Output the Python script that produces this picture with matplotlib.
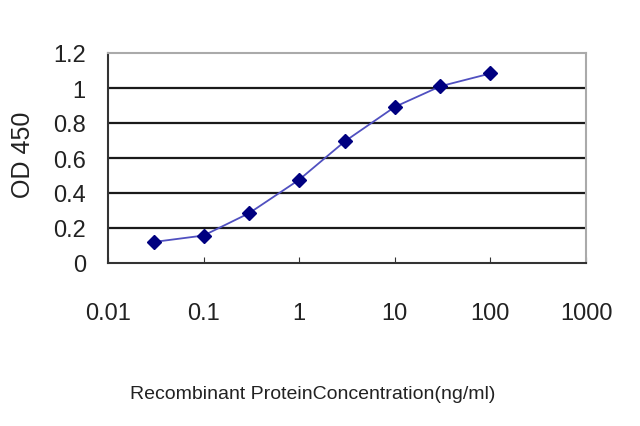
import matplotlib
matplotlib.use('Agg')
import matplotlib.pyplot as plt

# ELISA standard curve
conc = [0.03, 0.1, 0.3, 1, 3, 10, 30, 100]
od450 = [0.12, 0.157, 0.285, 0.476, 0.695, 0.892, 1.01, 1.083]
y_ticks = [0, 0.2, 0.4, 0.6, 0.8, 1, 1.2]
y_labels = ['0', '0.2', '0.4', '0.6', '0.8', '1', '1.2']
x_ticks = [0.01, 0.1, 1, 10, 100, 1000]
x_labels = ['0.01', '0.1', '1', '10', '100', '1000']

plt.rcParams['font.family'] = ['Liberation Sans', 'DejaVu Sans']

fig = plt.figure(figsize=(6.4, 4.27), dpi=100)
ax = fig.add_axes([108 / 640, 1 - 264 / 427, (586 - 108) / 640, (264 - 54) / 427])

ax.set_xscale('log')
ax.set_xlim(0.01, 1000)
ax.set_ylim(0, 1.2)

for y in y_ticks[1:-1]:
    ax.axhline(y, color='#1a1a1a', lw=1.6, zorder=1)

ax.plot(conc, od450, color='#5050c0', lw=1.3, zorder=2)
ax.plot(conc, od450, ls='none', marker='D', ms=7.5, color='#000080', zorder=3)

ax.set_yticks(y_ticks)
ax.set_yticklabels(y_labels, fontsize=17, color='#222222')
ax.set_xticks(x_ticks)
ax.set_xticklabels(x_labels, fontsize=17, color='#222222')
ax.minorticks_off()
ax.tick_params(axis='y', length=0, pad=16)
ax.tick_params(axis='x', direction='in', length=4, pad=28, color='#333333')

for side in ['top', 'right']:
    ax.spines[side].set_color('#aaaaaa')
    ax.spines[side].set_linewidth(1.5)
for side in ['left', 'bottom']:
    ax.spines[side].set_color('#333333')
    ax.spines[side].set_linewidth(1.5)

fig.text(23 / 640, 1 - 155 / 427, 'OD 450', rotation=90, ha='center', va='center',
         fontsize=18, color='#222222')
fig.text(313 / 640, 1 - 395 / 427, 'Recombinant ProteinConcentration(ng/ml)',
         ha='center', va='center', fontsize=14, color='#222222')

fig.savefig('out.png', dpi=100)
